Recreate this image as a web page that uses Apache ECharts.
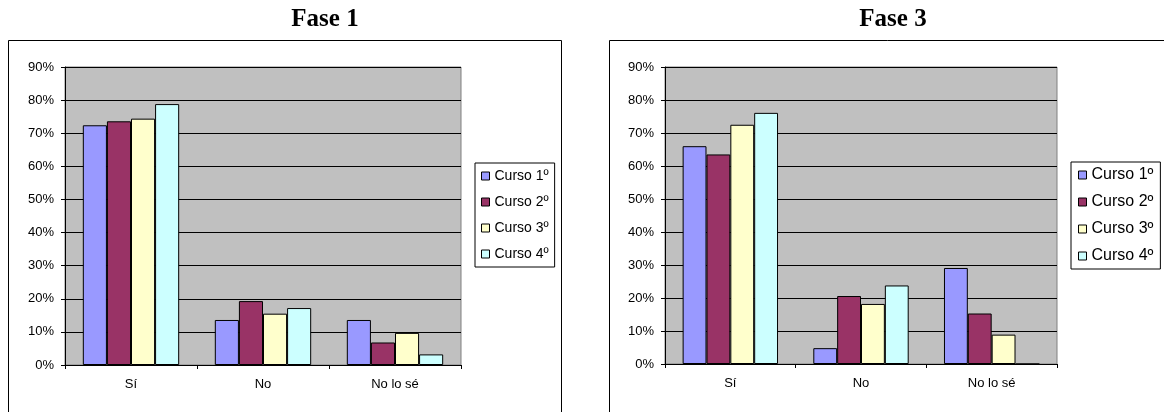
<!DOCTYPE html>
<html>
<head>
<meta charset="utf-8">
<script src="https://cdn.jsdelivr.net/npm/echarts@6/dist/echarts.min.js"></script>
<style>
  html, body { margin: 0; padding: 0; background: #fff; }
  #main { width: 1164px; height: 412px; }
</style>
</head>
<body>
<div id="main"></div>
<script>
// categorias y cursos
const categories = ['Sí', 'No', 'No lo sé'];
const cursos = ['Curso 1º', 'Curso 2º', 'Curso 3º', 'Curso 4º'];
const colores = ['#9999FF', '#993366', '#FFFFCC', '#CCFFFF'];
const yTicks = [0, 10, 20, 30, 40, 50, 60, 70, 80, 90];

// Fase 1 (%)
const fase1Curso1 = [72.4, 13.6, 13.6];
const fase1Curso2 = [73.6, 19.3, 6.8];
const fase1Curso3 = [74.4, 15.5, 9.7];
const fase1Curso4 = [78.8, 17.2, 3.2];

// Fase 3 (%)
const fase3Curso1 = [66.0, 4.8, 29.1];
const fase3Curso2 = [63.5, 20.6, 15.3];
const fase3Curso3 = [72.5, 18.2, 8.9];
const fase3Curso4 = [76.1, 23.8, 0];

const fase1 = [fase1Curso1, fase1Curso2, fase1Curso3, fase1Curso4];
const fase3 = [fase3Curso1, fase3Curso2, fase3Curso3, fase3Curso4];

const fontSans = "'Liberation Sans', Arial, sans-serif";

function xAxisDef(idx) {
    return {
        type: 'category',
        gridIndex: idx,
        data: categories,
        boundaryGap: true,
        axisLine: { show: true, lineStyle: { color: '#000', width: 1 } },
        axisTick: { show: true, length: 4, alignWithLabel: false, lineStyle: { color: '#000' } },
        axisLabel: { color: '#000', fontFamily: fontSans, fontSize: 13, margin: 13 },
        splitLine: { show: false }
    };
}

function yAxisDef(idx) {
    return {
        type: 'value',
        gridIndex: idx,
        min: yTicks[0],
        max: yTicks[yTicks.length - 1],
        interval: 10,
        axisLine: { show: true, lineStyle: { color: '#000', width: 1 } },
        axisTick: { show: true, length: 4, lineStyle: { color: '#000' } },
        axisLabel: { color: '#000', fontFamily: fontSans, fontSize: 13, margin: 11, formatter: '{value}%' },
        splitLine: { show: true, lineStyle: { color: '#000', width: 1 } }
    };
}

function buildSeries(datos, idx) {
    return datos.map(function (d, i) {
        return {
            name: cursos[i],
            type: 'bar',
            xAxisIndex: idx,
            yAxisIndex: idx,
            data: d,
            barGap: '0%',
            barCategoryGap: '27%',
            itemStyle: { color: colores[i], borderColor: '#000', borderWidth: 1 },
            emphasis: { disabled: true }
        };
    });
}

function legendDef(idx, left, top, fontSize, itemGap, padding) {
    return {
        legendIndex: idx,
        data: cursos,
        orient: 'vertical',
        left: left,
        top: top,
        padding: padding,
        itemGap: itemGap,
        itemWidth: 8,
        itemHeight: 8,
        itemStyle: { borderColor: '#000', borderWidth: 1 },
        icon: 'rect',
        backgroundColor: '#fff',
        borderColor: '#000',
        borderWidth: 1,
        textStyle: { color: '#000', fontFamily: fontSans, fontSize: fontSize },
        selectedMode: false
    };
}

let myChart = echarts.init(document.getElementById('main'), null, { renderer: 'canvas' });

const option = {
    animation: false,
    backgroundColor: '#fff',
    title: [
        { text: 'Fase 1', left: 320, top: 2, textAlign: 'center',
          textStyle: { fontFamily: "'Liberation Serif', 'Times New Roman', serif", fontWeight: 'bold', fontSize: 25, color: '#000' } },
        { text: 'Fase 3', left: 888, top: 2, textAlign: 'center',
          textStyle: { fontFamily: "'Liberation Serif', 'Times New Roman', serif", fontWeight: 'bold', fontSize: 25, color: '#000' } }
    ],
    graphic: [
        { type: 'rect', z: -10, shape: { x: 8.5, y: 40.5, width: 553, height: 400 },
          style: { fill: '#fff', stroke: '#000', lineWidth: 1 } },
        { type: 'rect', z: -10, shape: { x: 609.5, y: 40.5, width: 600, height: 400 },
          style: { fill: '#fff', stroke: '#000', lineWidth: 1 } }
    ],
    grid: [
        { left: 65, top: 67, width: 396, height: 298, show: true,
          backgroundColor: '#C0C0C0', borderColor: '#808080', borderWidth: 1 },
        { left: 665, top: 67, width: 392, height: 297, show: true,
          backgroundColor: '#C0C0C0', borderColor: '#808080', borderWidth: 1 }
    ],
    legend: [
        legendDef(0, 475, 163, 14, 12, [6, 6, 6, 6]),
        legendDef(1, 1071, 162, 16, 11, [5, 7, 5, 7])
    ],
    xAxis: [xAxisDef(0), xAxisDef(1)],
    yAxis: [yAxisDef(0), yAxisDef(1)],
    series: buildSeries(fase1, 0).concat(buildSeries(fase3, 1))
};

myChart.setOption(option);
</script>
</body>
</html>
